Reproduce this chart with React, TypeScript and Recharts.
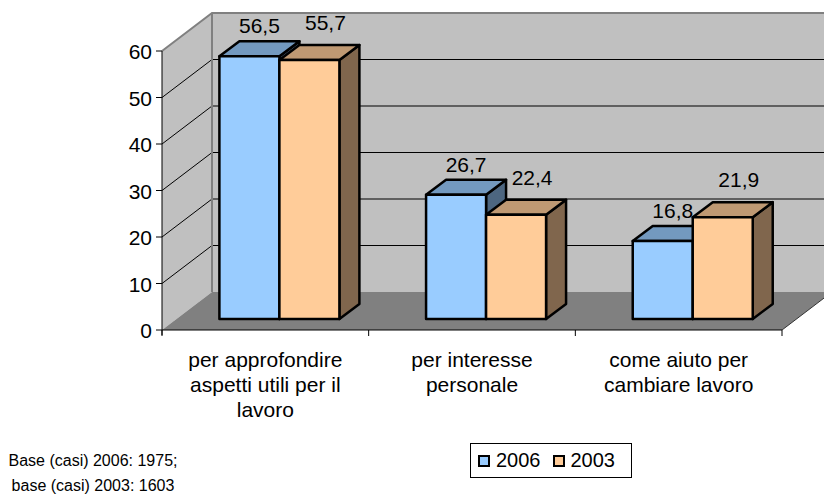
import { BarChart, Bar, XAxis, YAxis, ReferenceArea, LabelList, Legend } from 'recharts';

const categories = [
  'per approfondire\naspetti utili per il\nlavoro',
  'per interesse\npersonale',
  'come aiuto per\ncambiare lavoro',
];
const values2006 = [56.5, 26.7, 16.8];
const values2003 = [55.7, 22.4, 21.9];
const yTicks = [0, 10, 20, 30, 40, 50, 60];
const seriesKeys = ['v2006', 'v2003'];
const footnote = ['Base (casi) 2006: 1975;', 'base (casi) 2003: 1603'];

const data = categories.map((name, i) => ({
  name,
  v2006: values2006[i],
  v2003: values2003[i],
}));

const FONT = '"Liberation Sans", Arial, sans-serif';

// offsets (px) from the plane the bars stand on, to fake the excel 3d box
const FRONT = { dx: -14, dy: 11 };
const BACK = { dx: 36, dy: -27 };
const DEPTH = { dx: 20, dy: -15 };

const colors2006 = { front: '#99CCFF', top: '#7399BF', side: '#4D6680' };
const colors2003 = { front: '#FFCC99', top: '#BF9973', side: '#80664D' };

const pts = (list: number[][]) => list.map((p) => p.join(',')).join(' ');

const Walls = (props: any) => {
  const { x, y, width, height } = props;
  const bottom = y + height;
  const yMax = yTicks[yTicks.length - 1];
  const fl = x + FRONT.dx;
  const fr = x + width + FRONT.dx;
  const fb = bottom + FRONT.dy;
  const ft = y + FRONT.dy;
  const bl = x + BACK.dx;
  const br = x + width + BACK.dx;
  const bb = bottom + BACK.dy;
  const bt = y + BACK.dy;
  const valueY = (v: number) => bottom - (height * v) / yMax;
  const n = categories.length;

  return (
    <g>
      <polygon points={pts([[bl, bt], [br, bt], [br, bb], [bl, bb]])} fill='#C0C0C0' />
      <polygon points={pts([[fl, ft], [bl, bt], [bl, bb], [fl, fb]])} fill='#C0C0C0' />
      <polygon points={pts([[fl, fb], [bl, bb], [br, bb], [fr, fb]])} fill='#808080' />
      {yTicks.slice(1, -1).map((v) => {
        const ty = valueY(v);
        return (
          <g key={v}>
            <line x1={fl} y1={ty + FRONT.dy} x2={bl} y2={ty + BACK.dy} stroke='#000' />
            <line x1={bl} y1={ty + BACK.dy} x2={br} y2={ty + BACK.dy} stroke='#000' />
          </g>
        );
      })}
      <polyline
        points={pts([[fl, ft], [bl, bt], [br, bt]])}
        fill='none'
        stroke='#808080'
        strokeWidth={2}
      />
      <line x1={bl} y1={bt} x2={bl} y2={bb} stroke='#808080' strokeWidth={2} />
      <line x1={fr} y1={fb} x2={br} y2={bb} stroke='#333' />
      {/* front axes */}
      <line x1={fl} y1={ft} x2={fl} y2={fb + 5} stroke='#000' />
      <line x1={fl} y1={fb} x2={fr} y2={fb} stroke='#000' />
      {Array.from({ length: n + 1 }).map((_, i) => {
        const cx = fl + ((fr - fl) * i) / n;
        return <line key={i} x1={cx} y1={fb} x2={cx} y2={fb + 6} stroke='#000' />;
      })}
    </g>
  );
};

const makeBox = (c: { front: string; top: string; side: string }) => (props: any) => {
  const { x, y, width, height } = props;
  if (!height) return <g />;
  const r = x + width;
  const b = y + height;
  return (
    <g stroke='#000' strokeWidth={2.5} strokeLinejoin='round'>
      <polygon
        points={pts([[r, y], [r + DEPTH.dx, y + DEPTH.dy], [r + DEPTH.dx, b + DEPTH.dy], [r, b]])}
        fill={c.side}
      />
      <polygon
        points={pts([[x, y], [x + DEPTH.dx, y + DEPTH.dy], [r + DEPTH.dx, y + DEPTH.dy], [r, y]])}
        fill={c.top}
      />
      <rect x={x} y={y} width={width} height={height} fill={c.front} />
    </g>
  );
};

const makeLabel = (shiftX: number, lift: number) => (props: any) => {
  const { x, y, width, value } = props;
  return (
    <text
      x={x + width / 2 + shiftX}
      y={y - lift}
      textAnchor='middle'
      fontFamily={FONT}
      fontSize={21}
      fill='#000'
    >
      {String(value).replace('.', ',')}
    </text>
  );
};

const YTick = (props: any) => {
  const { x, y, payload } = props;
  const fx = x + FRONT.dx;
  const fy = y + FRONT.dy;
  return (
    <g>
      <line x1={fx - 6} y1={fy} x2={fx} y2={fy} stroke='#000' />
      <text x={fx - 10} y={fy + 8} textAnchor='end' fontFamily={FONT} fontSize={21} fill='#000'>
        {payload.value}
      </text>
    </g>
  );
};

const XTick = (props: any) => {
  const { x, y, payload } = props;
  const lines = String(payload.value).split('\n');
  return (
    <text x={x + FRONT.dx} y={y + 48} textAnchor='middle' fontFamily={FONT} fontSize={21} fill='#000'>
      {lines.map((line, i) => (
        <tspan key={i} x={x + FRONT.dx} dy={i === 0 ? 0 : 25}>
          {line}
        </tspan>
      ))}
    </text>
  );
};

const LegendBox = (props: any) => {
  const items = [...(props.payload || [])].sort(
    (a: any, b: any) => seriesKeys.indexOf(a.dataKey) - seriesKeys.indexOf(b.dataKey)
  );
  return (
    <div
      style={{
        display: 'flex',
        alignItems: 'center',
        boxSizing: 'border-box',
        width: 162,
        height: 35,
        paddingLeft: 7,
        border: '1px solid #000',
        background: '#fff',
        fontFamily: FONT,
        fontSize: 20,
        color: '#000',
      }}
    >
      {items.map((entry: any) => (
        <span key={entry.value} style={{ display: 'flex', alignItems: 'center', marginRight: 12 }}>
          <span
            style={{
              width: 12,
              height: 12,
              boxSizing: 'border-box',
              border: '2px solid #000',
              background: entry.color,
              marginRight: 6,
            }}
          />
          {entry.value}
        </span>
      ))}
    </div>
  );
};

const App = () => {
  return (
    <div style={{ position: 'absolute', left: 0, top: 0, width: 824, height: 497, fontFamily: FONT }}>
      <BarChart
        width={824}
        height={497}
        data={data}
        margin={{ top: 40, right: 28, bottom: 118, left: 116 }}
        barCategoryGap='21%'
        barGap={0}
      >
        <ReferenceArea y1={0} y2={60} ifOverflow='visible' shape={Walls} zIndex={-200} />
        <XAxis
          dataKey='name'
          axisLine={false}
          tickLine={false}
          tickSize={0}
          tickMargin={0}
          height={60}
          interval={0}
          tick={<XTick />}
        />
        <YAxis
          domain={[0, 60]}
          ticks={yTicks}
          axisLine={false}
          tickLine={false}
          tickSize={0}
          tickMargin={0}
          width={60}
          tick={<YTick />}
        />
        <Legend
          verticalAlign='middle'
          align='center'
          layout='horizontal'
          wrapperStyle={{ left: 470, top: 443, width: 162, height: 35 }}
          content={<LegendBox />}
        />
        <Bar dataKey='v2006' name='2006' fill={colors2006.front} shape={makeBox(colors2006)} isAnimationActive={false}>
          <LabelList dataKey='v2006' content={makeLabel(10, 23)} />
        </Bar>
        <Bar dataKey='v2003' name='2003' fill={colors2003.front} shape={makeBox(colors2003)} isAnimationActive={false}>
          <LabelList dataKey='v2003' content={makeLabel(16, 30)} />
        </Bar>
      </BarChart>
      <div
        style={{
          position: 'absolute',
          left: 0,
          top: 449,
          width: 186,
          textAlign: 'center',
          fontSize: 16,
          lineHeight: '24.5px',
          color: '#000',
        }}
      >
        {footnote.map((line) => (
          <div key={line}>{line}</div>
        ))}
      </div>
    </div>
  );
};

export default App;
